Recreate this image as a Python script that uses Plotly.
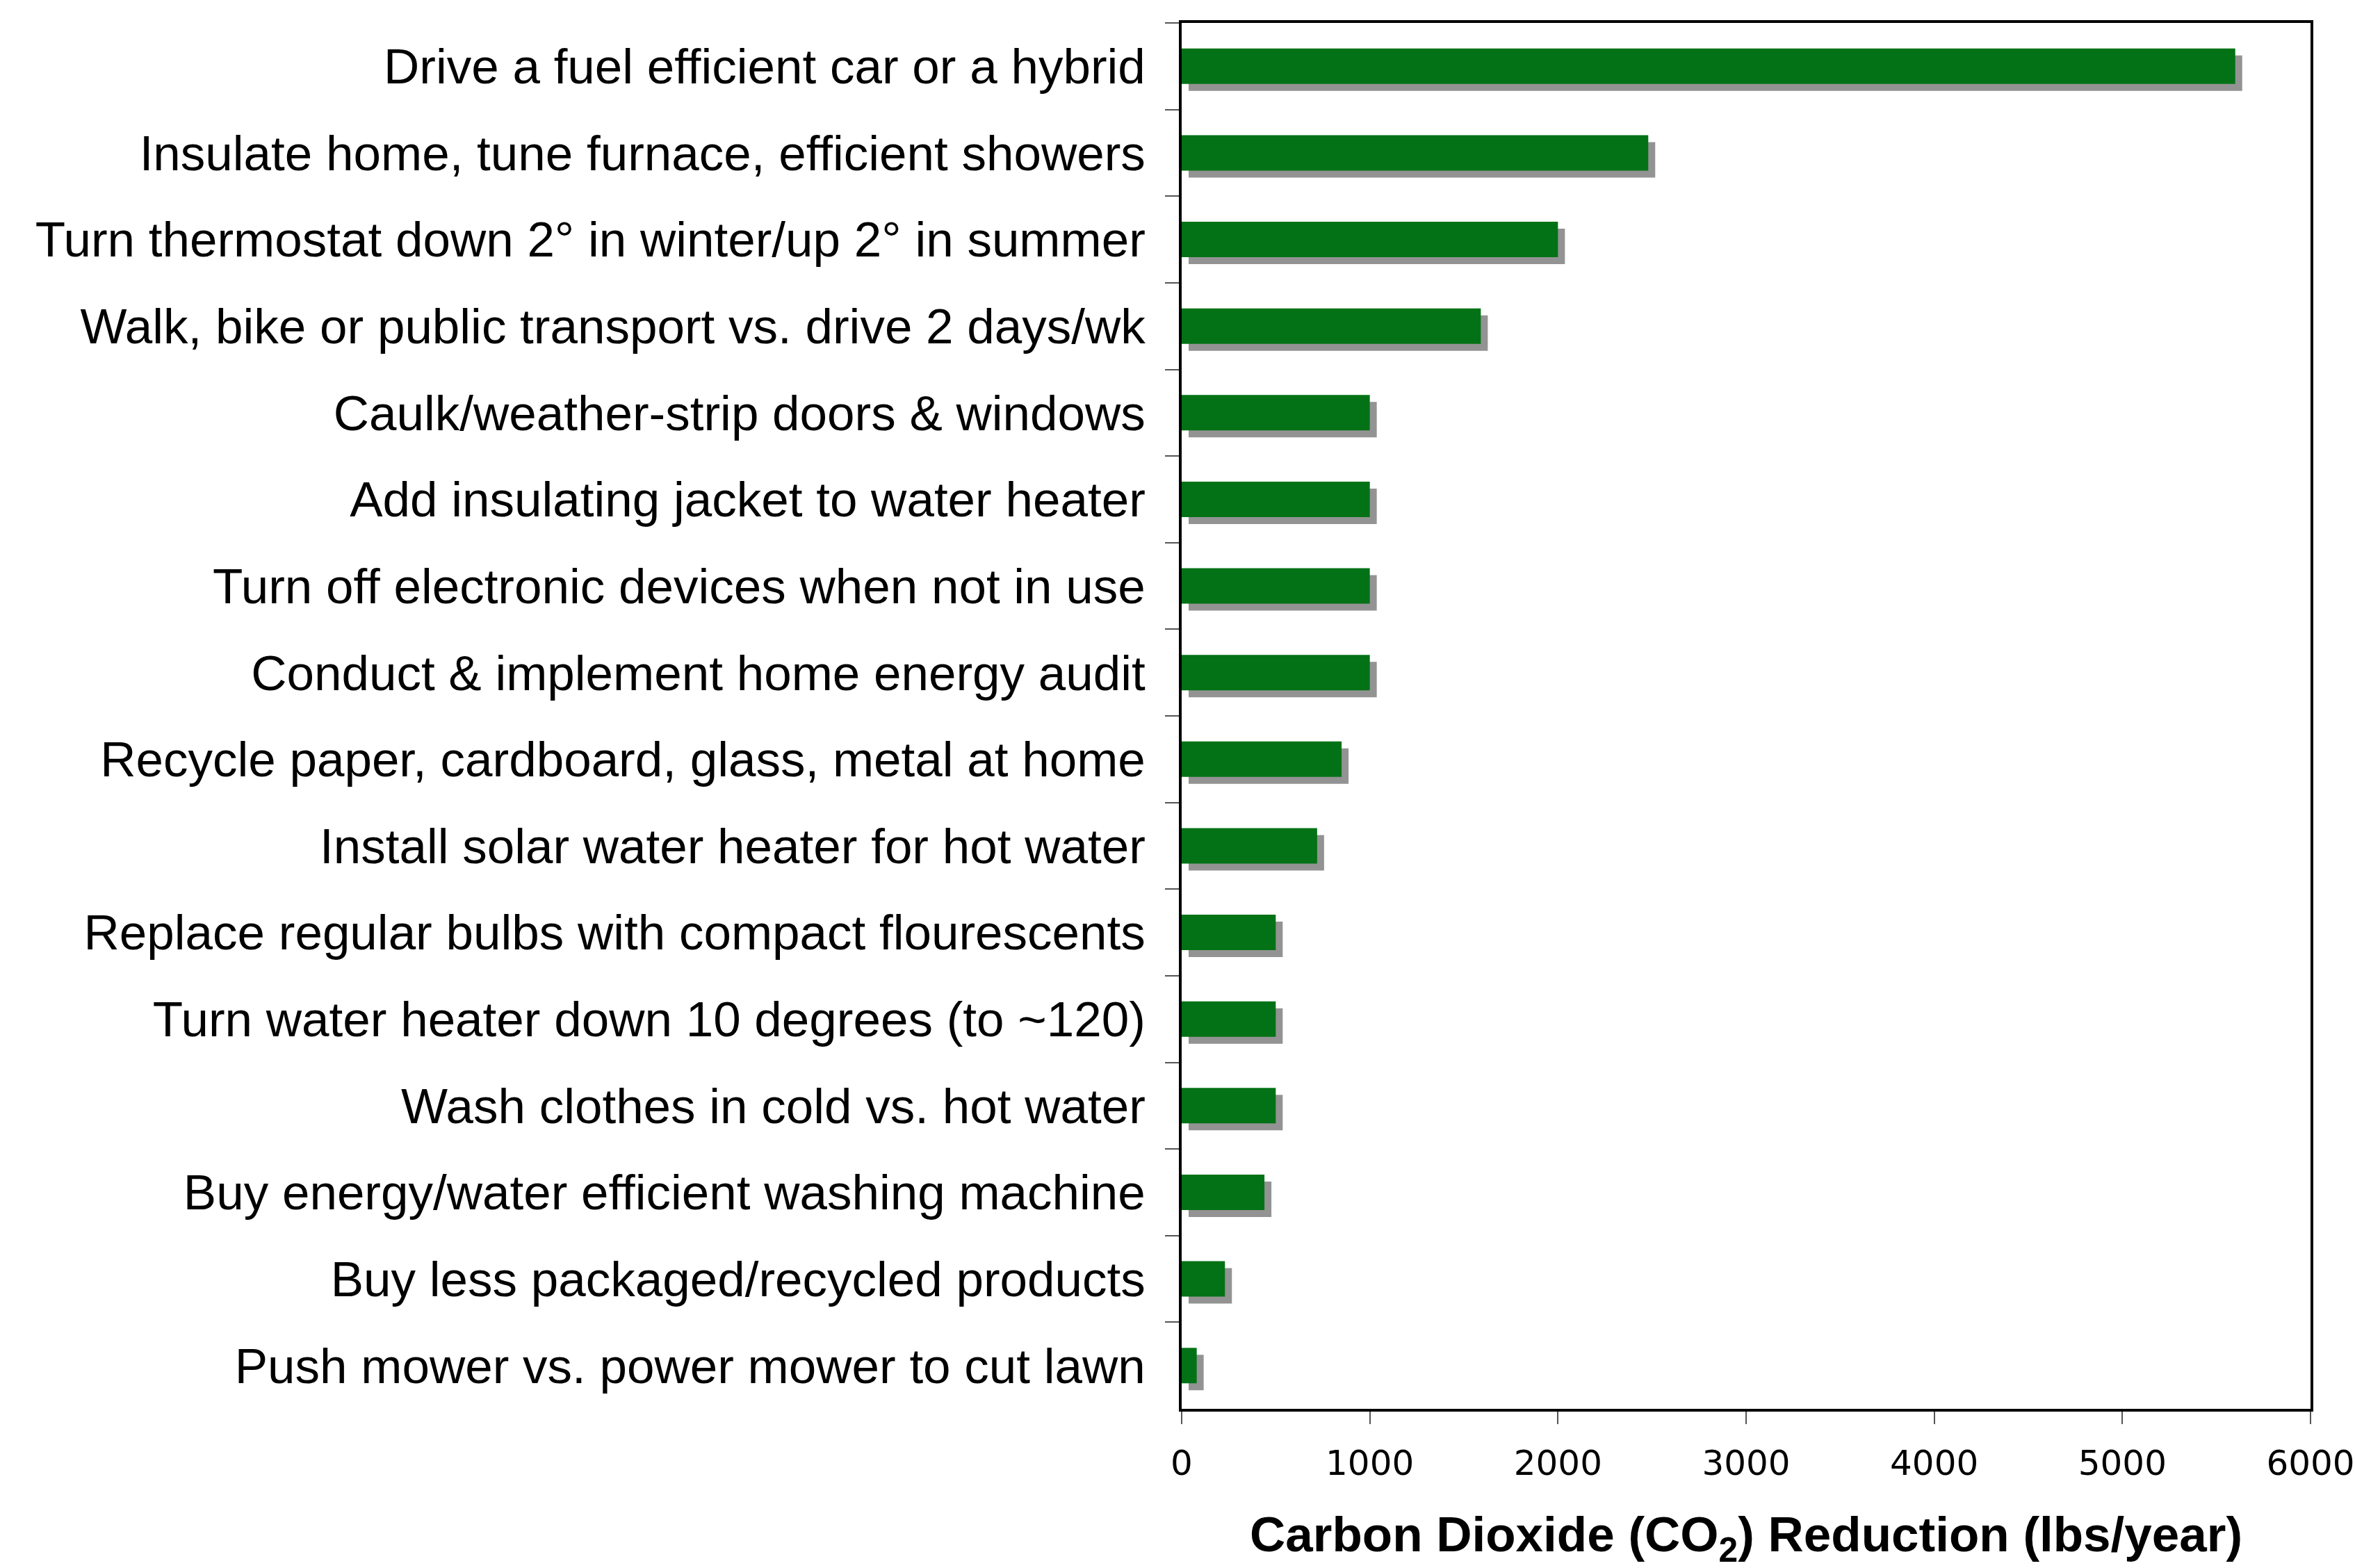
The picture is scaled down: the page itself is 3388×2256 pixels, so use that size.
import plotly.graph_objects as go

categories = [
    "Drive a fuel efficient car or a hybrid",
    "Insulate home, tune furnace, efficient showers",
    "Turn thermostat down 2° in winter/up 2° in summer",
    "Walk, bike or public transport vs. drive 2 days/wk",
    "Caulk/weather-strip doors & windows",
    "Add insulating jacket to water heater",
    "Turn off electronic devices when not in use",
    "Conduct & implement home energy audit",
    "Recycle paper, cardboard, glass, metal at home",
    "Install solar water heater for hot water",
    "Replace regular bulbs with compact flourescents",
    "Turn water heater down 10 degrees (to ~120)",
    "Wash clothes in cold vs. hot water",
    "Buy energy/water efficient washing machine",
    "Buy less packaged/recycled products",
    "Push mower vs. power mower to cut lawn",
]
co2_reduction = [5600, 2480, 2000, 1590, 1000, 1000, 1000, 1000,
                 850, 720, 500, 500, 500, 440, 230, 80]
x_ticks = [0, 1000, 2000, 3000, 4000, 5000, 6000]
x_title = "Carbon Dioxide (CO<sub>2</sub>) Reduction (lbs/year)"

W, H = 3388, 2256
L, R, T, B = 1700, 64, 33, 229
plot_w = W - L - R
plot_h = H - T - B
x_max = 6000
bar_w = 0.41
shadow_px = 10
shadow_dx = shadow_px * x_max / plot_w
shadow_dy = shadow_px / (plot_h / len(categories))
title_center_px = 186  # below plot bottom

fig = go.Figure()
fig.add_trace(go.Bar(
    y=categories, x=co2_reduction, base=shadow_dx, orientation="h",
    width=bar_w, offset=-bar_w / 2 + shadow_dy,
    marker=dict(color="#939393", line=dict(width=0)),
    hoverinfo="skip", showlegend=False,
))
fig.add_trace(go.Bar(
    y=categories, x=co2_reduction, orientation="h",
    width=bar_w, offset=-bar_w / 2,
    marker=dict(color="#037216", line=dict(width=0)),
    showlegend=False,
))

fig.add_annotation(
    text=x_title, xref="paper", yref="paper",
    x=0.5, y=-title_center_px / plot_h, xanchor="center", yanchor="middle",
    showarrow=False,
    font=dict(family="Liberation Sans", size=71, color="black", weight="bold"),
)

fig.update_layout(
    width=W, height=H,
    margin=dict(l=L, r=R, t=T, b=B, pad=0, autoexpand=False),
    paper_bgcolor="white", plot_bgcolor="white",
    barmode="overlay",
    xaxis=dict(
        automargin=False,
        range=[0, x_max], tickvals=x_ticks, ticktext=[str(v) for v in x_ticks],
        showgrid=False, zeroline=False,
        showline=True, mirror=True, linecolor="black", linewidth=4,
        ticks="outside", ticklen=18, tickwidth=2, tickcolor="#555555",
        tickfont=dict(family="DejaVu Sans", size=50, color="black"),
        ticklabelstandoff=13,
    ),
    yaxis=dict(
        automargin=False,
        type="category", categoryorder="array", categoryarray=categories,
        range=[len(categories) - 0.5, -0.5],
        showgrid=False, zeroline=False,
        showline=True, mirror=True, linecolor="black", linewidth=4,
        ticks="outside", ticklen=20, tickwidth=2, tickcolor="#555555",
        tickson="boundaries",
        tickfont=dict(family="Liberation Sans", size=71, color="black"),
        ticklabelstandoff=34,
    ),
)

fig.write_html("out.html")
